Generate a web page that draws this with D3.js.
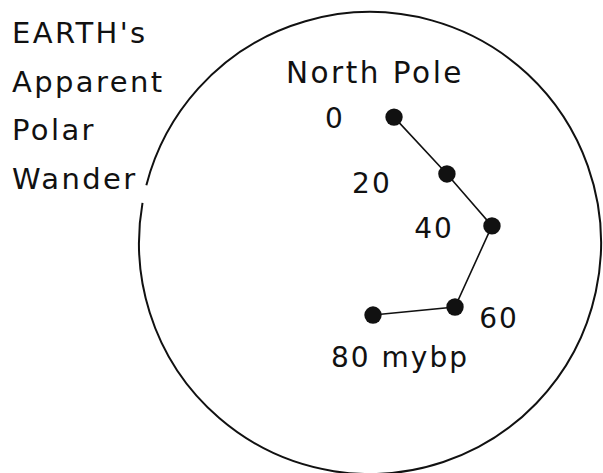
<!DOCTYPE html>
<html>
<head>
<meta charset="utf-8">
<script src="https://cdn.jsdelivr.net/npm/d3@7"></script>
<style>
  body { margin: 0; background: #fff; }
  text { font-family: "DejaVu Sans", sans-serif; fill: #111; }
</style>
</head>
<body>
<div id="chart"></div>
<script>
// Earth's apparent polar wander, pole positions in units of the globe radius
var ages = [0, 20, 40, 60, 80];
var poleX = [0.104, 0.333, 0.528, 0.368, 0.013];
var poleY = [0.545, 0.299, 0.074, -0.277, -0.312];
var ageLabels = ["0", "20", "40", "60", "80 mybp"];
var titleLines = ["EARTH's", "Apparent", "Polar", "Wander"];

var w = 603, h = 473;

var cx = 370, cy = 243, R = 231;

var x = d3.scaleLinear().domain([-1, 1]).range([cx - R, cx + R]);
var y = d3.scaleLinear().domain([-1, 1]).range([cy + R, cy - R]);

var svg = d3.select('#chart').append('svg')
  .attr('width', w)
  .attr('height', h);

// the globe outline, with a small break next to the title
var arc = d3.arc()
  .innerRadius(R)
  .outerRadius(R)
  .startAngle(284.5 * Math.PI / 180)
  .endAngle((280 + 360) * Math.PI / 180);

svg.append('path')
  .attr('d', arc())
  .attr('transform', 'translate(' + [x(0), y(0)] + ')')
  .attr('fill', 'none')
  .attr('stroke', '#111')
  .attr('stroke-width', 2);

// title
svg.append('g').selectAll('text')
  .data(titleLines)
  .enter().append('text')
  .attr('x', 12)
  .attr('y', function(d, i) { return 43 + i * 48.7; })
  .attr('font-size', 29)
  .attr('letter-spacing', 2.4)
  .text(function(d) { return d; });

svg.append('text')
  .attr('x', x(0) + 5)
  .attr('y', 83)
  .attr('text-anchor', 'middle')
  .attr('font-size', 29.5)
  .attr('letter-spacing', 2.5)
  .text('North Pole');

var pts = ages.map(function(a, i) {
  return { age: a, x: poleX[i], y: poleY[i], label: ageLabels[i] };
});

var line = d3.line()
  .x(function(d) { return x(d.x); })
  .y(function(d) { return y(d.y); });

svg.append('path')
  .datum(pts)
  .attr('d', line)
  .attr('fill', 'none')
  .attr('stroke', '#111')
  .attr('stroke-width', 1.6);

svg.append('g').selectAll('circle')
  .data(pts)
  .enter().append('circle')
  .attr('cx', function(d) { return x(d.x); })
  .attr('cy', function(d) { return y(d.y); })
  .attr('r', 8.7)
  .attr('fill', '#111');

// label offsets from each point (dx, dy of label centre)
var labelOffset = [[-59, 11], [-75, 19], [-58, 12], [44, 21], [27, 52]];

svg.append('g').selectAll('text')
  .data(pts)
  .enter().append('text')
  .attr('x', function(d, i) { return x(d.x) + labelOffset[i][0]; })
  .attr('y', function(d, i) { return y(d.y) + labelOffset[i][1]; })
  .attr('text-anchor', 'middle')
  .attr('font-size', 28)
  .attr('letter-spacing', 2)
  .text(function(d) { return d.label; });
</script>
</body>
</html>
